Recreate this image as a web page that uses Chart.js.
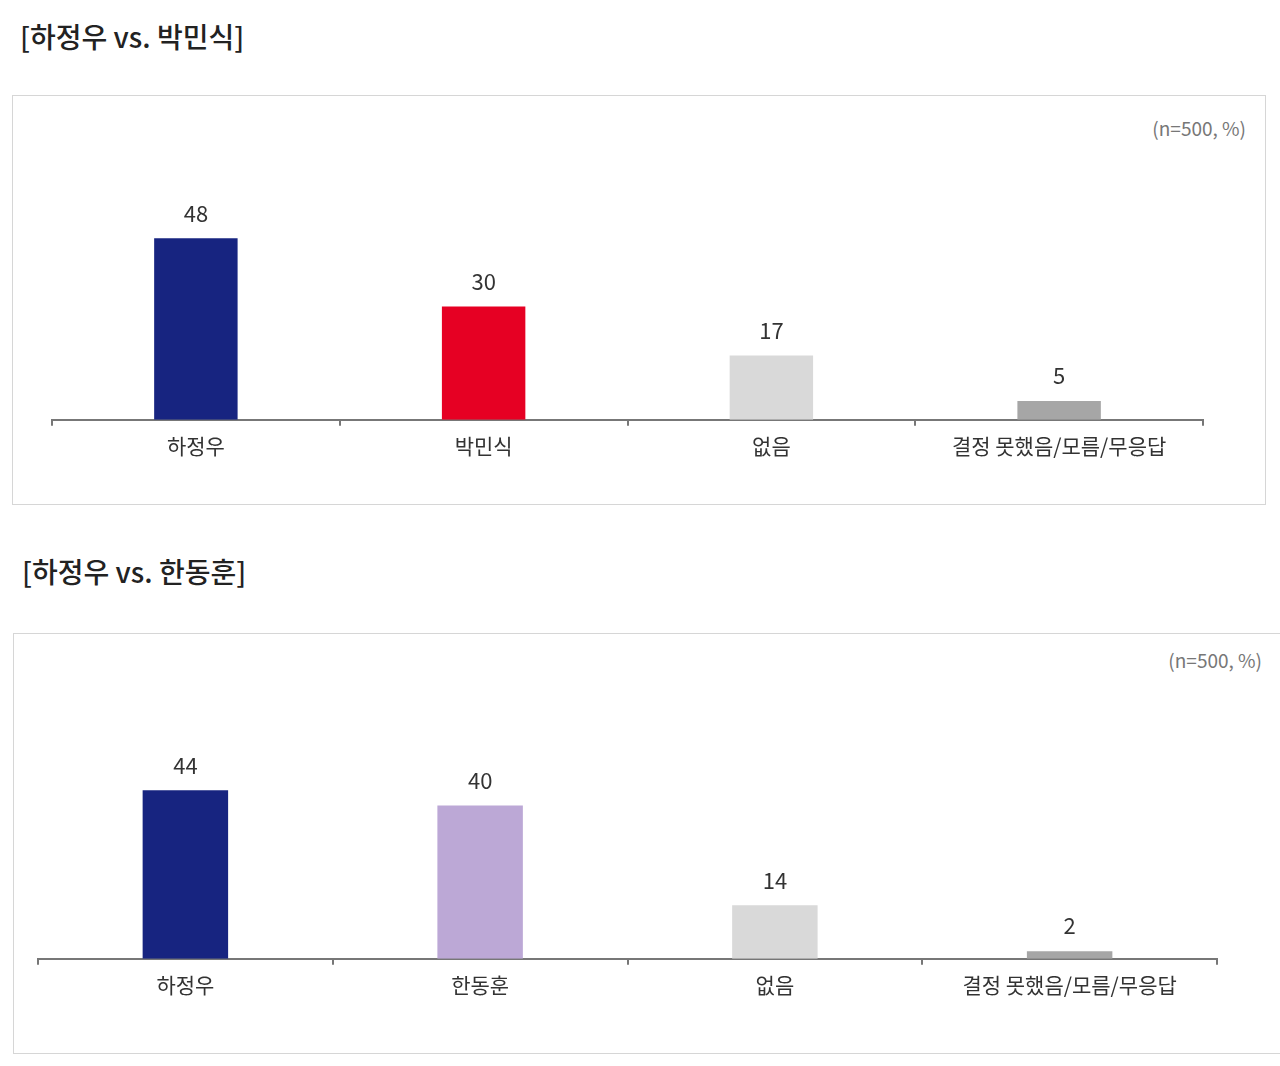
<!DOCTYPE html>
<html><head><meta charset="utf-8">
<script src="https://cdn.jsdelivr.net/npm/chart.js@4"></script>
<style>
body{margin:0;width:1280px;height:1066px;background:#fff;font-family:"Noto Sans CJK KR",sans-serif;position:relative;overflow:hidden}
.t{position:absolute;font-size:28px;color:#222;font-weight:500}
.box{position:absolute;border:1.5px solid #d6d6d6;box-sizing:border-box}
.n{position:absolute;font-size:19px;color:#777}
canvas{position:absolute}
</style></head><body>
<div class="t" style="left:20px;top:16px">[하정우 vs. 박민식]</div>
<div class="box" style="left:12px;top:95px;width:1254px;height:410px"></div>
<div class="n" style="right:34px;top:114px">(n=500, %)</div>
<div class="t" style="left:22px;top:551px">[하정우 vs. 한동훈]</div>
<div class="box" style="left:13px;top:633px;width:1270px;height:421px"></div>
<div class="n" style="right:18px;top:646px">(n=500, %)</div>
<div style="position:absolute;left:12px;top:95px;width:1254px;height:410px"><canvas id="c1"></canvas></div>
<div style="position:absolute;left:13px;top:633px;width:1267px;height:421px"><canvas id="c2"></canvas></div>
<script>
const labels1=['하정우','박민식','없음','결정 못했음/모름/무응답'];
const values1=[48,30,17,5];
const colors1=['#172480','#e60023','#d9d9d9','#a6a6a6'];
const labels2=['하정우','한동훈','없음','결정 못했음/모름/무응답'];
const values2=[44,40,14,2];
const colors2=['#172480','#bca8d6','#d9d9d9','#a6a6a6'];
const valPlugin={id:'v',afterDatasetsDraw(c){const ctx=c.ctx;ctx.save();ctx.font='22px "Noto Sans CJK KR"';ctx.fillStyle='#333';ctx.textAlign='center';ctx.textBaseline='bottom';
c.getDatasetMeta(0).data.forEach((b,i)=>ctx.fillText(c.data.datasets[0].data[i],b.x,b.y-14));ctx.restore();}};
function mk(id,labels,values,colors,pad,bp){
new Chart(document.getElementById(id),{type:'bar',data:{labels,datasets:[{data:values,backgroundColor:colors,barPercentage:bp,categoryPercentage:1}]},
options:{responsive:true,maintainAspectRatio:false,animation:false,layout:{padding:pad},
plugins:{legend:{display:false},tooltip:{enabled:false}},
scales:{y:{display:false,min:0,max:60},x:{border:{color:'#777',width:2},grid:{drawOnChartArea:false,tickLength:6,color:'#777',lineWidth:2},
ticks:{color:'#333',padding:8,font:{size:21,family:'"Noto Sans CJK KR"'}}}}},plugins:[valPlugin]});}
mk('c1',labels1,values1,colors1,{left:40,right:63,top:98,bottom:38},0.29);
mk('c2',labels2,values2,colors2,{left:25,right:63,top:96,bottom:48},0.29);
</script></body></html>
